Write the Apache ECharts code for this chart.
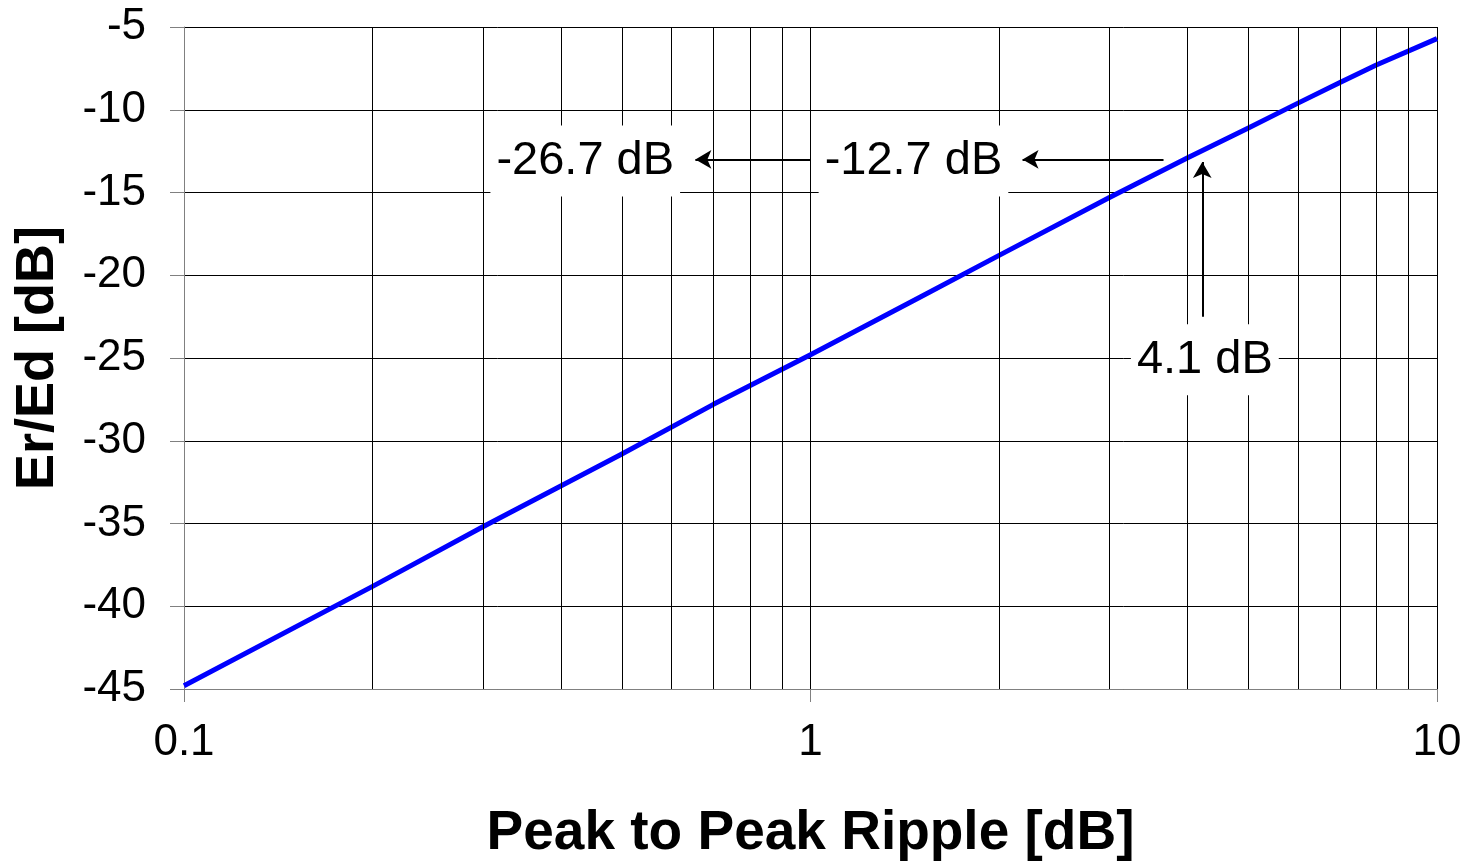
<!DOCTYPE html>
<html>
<head>
<meta charset="utf-8">
<script src="https://cdn.jsdelivr.net/npm/echarts@6/dist/echarts.min.js"></script>
<style>
  html, body { margin: 0; padding: 0; background: #fff; }
  #chart { width: 1471px; height: 866px; }
</style>
</head>
<body>
<div id="chart"></div>
<script>
// curve: peak-to-peak ripple [dB] -> Er/Ed [dB]
const ripple = [0.1, 0.2, 0.3, 0.5, 0.7, 1, 1.5, 2, 3, 4, 5, 6, 7, 8, 10];
const erEd = [-44.8, -38.8, -35.2, -30.8, -27.8, -24.8, -21.3, -18.8, -15.3, -12.9, -11.1, -9.6, -8.35, -7.3, -5.7];

// vertical grid lines between decades
const minorX = [0.2, 0.3, 0.4, 0.5, 0.6, 0.7, 0.8, 0.9, 2, 3, 4, 5, 6, 7, 8, 9];

// annotations (data coordinates)
const noteTexts = ['-26.7 dB', '-12.7 dB', '4.1 dB'];
const notePos = [[0.437, -13.1], [1.46, -13.1], [4.26, -25.1]];
const arrows = [
  [[1, -13.0], [0.655, -13.0]],
  [[3.66, -13.0], [2.18, -13.0]],
  [[4.22, -22.5], [4.22, -13.15]]
];

const font = 'Liberation Sans, Arial, sans-serif';
const chart = echarts.init(document.getElementById('chart'));

const option = {
  animation: false,
  backgroundColor: '#fff',
  grid: { left: 184, right: 34, top: 27, bottom: 174 },
  xAxis: {
    type: 'log',
    logBase: 10,
    min: 0.1,
    max: 10,
    name: 'Peak to Peak Ripple [dB]',
    nameLocation: 'middle',
    nameGap: 117,
    nameTextStyle: { fontFamily: font, fontSize: 55, fontWeight: 'bold', color: '#000' },
    axisLine: { show: true, lineStyle: { color: '#808080', width: 1 } },
    axisTick: { show: true, length: 13, lineStyle: { color: '#808080' } },
    axisLabel: {
      fontFamily: font, fontSize: 44, color: '#000', margin: 32,
      formatter: v => String(v)
    },
    splitLine: { show: true, lineStyle: { color: '#000', width: 1 } }
  },
  yAxis: {
    type: 'value',
    min: -45,
    max: -5,
    interval: 5,
    name: 'Er/Ed [dB]',
    nameLocation: 'middle',
    nameGap: 119,
    nameTextStyle: { fontFamily: font, fontSize: 54, fontWeight: 'bold', color: '#000' },
    axisLine: { show: true, lineStyle: { color: '#808080', width: 1 } },
    axisTick: { show: true, length: 14, lineStyle: { color: '#808080' } },
    axisLabel: { fontFamily: font, fontSize: 44, color: '#000', margin: 38 },
    splitLine: { show: true, lineStyle: { color: '#000', width: 1 } }
  },
  series: [
    {
      // minor vertical grid
      type: 'line',
      data: [],
      silent: true,
      z: 1,
      markLine: {
        silent: true,
        symbol: ['none', 'none'],
        label: { show: false },
        lineStyle: { color: '#000', width: 1, type: 'solid' },
        data: minorX.map(x => ({ xAxis: x }))
      }
    },
    {
      type: 'line',
      data: ripple.map((x, i) => [x, erEd[i]]),
      showSymbol: false,
      lineStyle: { color: '#0000ff', width: 5, join: 'round' },
      z: 3
    },
    {
      // arrows and labels
      type: 'line',
      data: [],
      silent: true,
      z: 4,
      markLine: {
        silent: true,
        symbol: ['none', 'arrow'],
        symbolSize: [14, 16],
        label: { show: false },
        lineStyle: { color: '#000', width: 2, type: 'solid' },
        data: arrows.map(a => [{ coord: a[0] }, { coord: a[1] }])
      },
      markPoint: {
        silent: true,
        symbol: 'circle',
        symbolSize: 0,
        label: {
          show: true,
          position: 'inside',
          formatter: p => p.name,
          fontFamily: font,
          fontSize: 47,
          color: '#000',
          backgroundColor: '#fff',
          padding: [12, 6]
        },
        data: noteTexts.map((t, i) => ({ name: t, coord: notePos[i] }))
      }
    }
  ]
};

chart.setOption(option);
</script>
</body>
</html>
